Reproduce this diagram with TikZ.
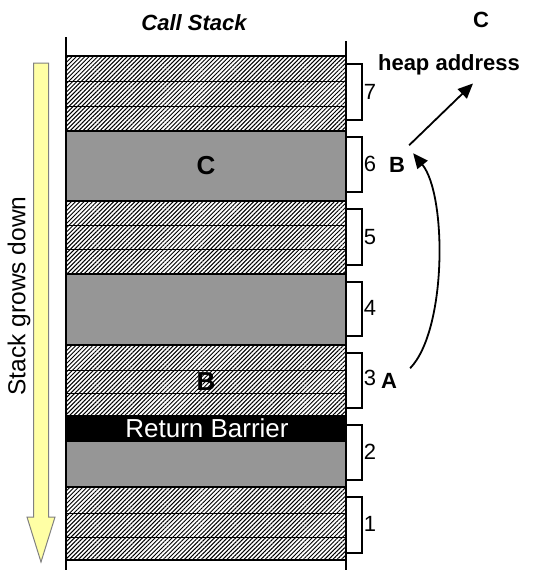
\documentclass[tikz,border=0pt]{standalone}
\usepackage{fontspec}
\setmainfont{Liberation Sans}
\usetikzlibrary{patterns.meta,arrows.meta}

\definecolor{framegray}{RGB}{150,150,150}
\definecolor{growyellow}{RGB}{255,255,165}
\definecolor{growedge}{RGB}{128,128,128}

\begin{document}
\begin{tikzpicture}[x=1pt,y=-1pt,
  hatched frame/.style={draw,line width=1.6pt,minimum width=280pt,inner sep=0pt,pattern={Lines[angle=45,distance=3pt,line width=1pt]}},
  gray frame/.style={draw,line width=1.6pt,minimum width=280pt,inner sep=0pt,fill=framegray},
  divider/.style={draw,line width=0.8pt},
  bracket/.style={draw,line width=1.6pt},
  big label/.style={font=\fontsize{26}{30}\selectfont\bfseries,inner sep=1pt},
  side label/.style={font=\fontsize{22}{26}\selectfont\bfseries,inner sep=1pt},
  num label/.style={font=\fontsize{22}{26}\selectfont,inner sep=1pt},
  link/.style={draw,line width=1.8pt,-{Triangle[length=15pt,width=13pt]}}]
\useasboundingbox (0,0) rectangle (558,570);

% stack grows down
\draw[fill=growyellow,draw=growedge,line width=1pt] (33.5,63) -- (48.5,63) -- (48.5,517) -- (55,517)
  -- (41,562) -- (27,517) -- (33.5,517) -- cycle;
\node[num label,font=\fontsize{24.5}{28}\selectfont,rotate=90] (grows) at (19,296) {Stack grows down};

% frames
\node[hatched frame,minimum height=75pt] (f7) at (206,93.5) {};
\node[gray frame,minimum height=70pt] (f6) at (206,166) {};
\node[hatched frame,minimum height=73pt] (f5) at (206,237.5) {};
\node[gray frame,minimum height=71pt] (f4) at (206,309.5) {};
\node[hatched frame,minimum height=71pt] (f3) at (206,380.5) {};
\node[gray frame,minimum height=46pt] (f2) at (206,464) {};
\node[gray frame,fill=black,minimum height=25pt] (rb) at (206,428.5) {};
\node[hatched frame,minimum height=73pt] (f1) at (206,523.5) {};

\draw[divider] (66,81) -- (346,81);
\draw[divider] (66,106) -- (346,106);
\draw[divider] (66,225) -- (346,225);
\draw[divider] (66,249) -- (346,249);
\draw[divider] (66,370) -- (346,370);
\draw[divider] (66,393) -- (346,393);
\draw[divider] (66,513) -- (346,513);
\draw[divider] (66,537) -- (346,537);

\draw[line width=2pt] (66,37) -- (66,570);
\draw[line width=2pt] (346,41) -- (346,570);

\node[big label] (lC) at (f6) {C};
\node[big label] (lB) at (206,382) {B};
\node[num label,font=\fontsize{26}{30}\selectfont,text=white] (lrb) at (207,428) {Return Barrier};

% brackets
\draw[bracket] (346,64) -- (362,64) -- (362,120) -- (346,120);
\draw[bracket] (346,137) -- (362,137) -- (362,192) -- (346,192);
\draw[bracket] (346,209) -- (362,209) -- (362,265) -- (346,265);
\draw[bracket] (346,282) -- (362,282) -- (362,336) -- (346,336);
\draw[bracket] (346,353) -- (362,353) -- (362,408) -- (346,408);
\draw[bracket] (346,425) -- (362,425) -- (362,480) -- (346,480);
\draw[bracket] (346,497) -- (362,497) -- (362,553) -- (346,553);

\begin{scope}[every node/.style={num label}]
\node (n7) at (370,92) {7};
\node (n6) at (370,164) {6};
\node (n5) at (370,237) {5};
\node (n4) at (370,308) {4};
\node (n3) at (370,378) {3};
\node (n2) at (370,452) {2};
\node (n1) at (370,524) {1};
\end{scope}

\node[side label,font=\fontsize{22}{26}\selectfont\bfseries\itshape] (title) at (194,23) {Call Stack};
\node[side label] (topC) at (481,20) {C};
\node[side label] (heap) at (449,65) {heap address};
\node[side label] (rB) at (397,165) {B};
\node[side label] (rA) at (389,381) {A};

\draw[link] ([xshift=3pt,yshift=11pt]rB.north east) -- ([xshift=24pt,yshift=-7pt]heap.south);
\draw[link] ([xshift=12pt,yshift=4pt]rA.north east) .. controls (447,330) and (447,195) .. ([xshift=7pt,yshift=3pt]rB.north east);
\end{tikzpicture}
\end{document}
